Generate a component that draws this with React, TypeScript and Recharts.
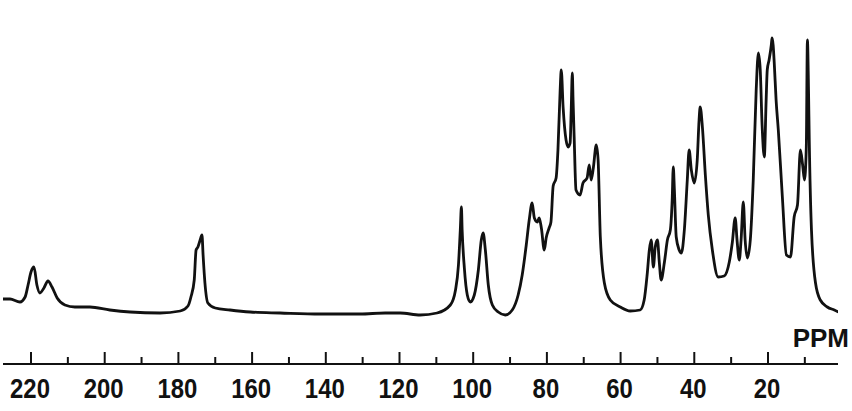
import React from 'react';
import { LineChart, Line, XAxis, YAxis } from 'recharts';

// chemical shift (ppm), read left to right on the spectrum
const ppmValues: number[] = [
  227.6, 225.7, 223.0, 221.6, 220.8, 220.0, 219.2, 218.4, 217.6, 216.5, 215.4, 214.3, 212.9, 210.8, 208.1, 204.0,
  198.6, 193.1, 185.0, 179.5, 177.4, 176.6, 175.7, 175.2, 174.7, 174.1, 173.6, 173.3, 172.8, 172.0, 170.0, 166.0,
  160.5, 152.4, 141.5, 130.7, 123.9, 119.8, 114.4, 109.8, 106.2, 104.8, 104.0, 103.5, 103.2, 103.0, 102.4, 101.6,
  100.8, 99.7, 98.6, 97.8, 97.3, 96.7, 95.9, 94.8, 93.2, 91.3, 89.4, 87.8, 86.7, 85.6, 84.8, 84.0,
  83.4, 82.6, 82.1, 81.5, 80.7, 80.2, 79.4, 78.9, 78.3, 77.5, 77.0, 76.4, 76.1, 75.6, 74.8, 74.2,
  73.7, 73.4, 73.1, 72.9, 72.6, 72.1, 71.0, 70.2, 69.1, 68.5, 68.0, 67.4, 66.6, 66.1, 65.5, 64.4,
  62.8, 60.1, 57.4, 54.7, 53.6, 52.8, 52.2, 51.7, 51.1, 50.6, 50.0, 49.5, 49.0, 48.1, 47.3, 46.5,
  46.0, 45.7, 45.4, 44.9, 44.1, 43.5, 42.7, 41.9, 41.4, 40.8, 40.0, 39.2, 38.7, 38.4, 37.8, 37.0,
  36.2, 35.1, 33.5, 31.9, 30.5, 29.7, 28.9, 28.4, 27.8, 27.3, 26.7, 26.2, 25.6, 24.8, 24.0, 23.2,
  22.6, 22.1, 21.6, 21.0, 20.5, 20.2, 19.7, 19.1, 18.9, 18.6, 18.3, 17.8, 17.2, 16.1, 15.0, 13.9,
  12.9, 12.0, 11.2, 10.6, 10.1, 9.6, 9.3, 9.0, 8.8, 8.2, 7.1, 5.8, 3.9, 2.0, 0.9,
];

// signal intensity (arbitrary units)
const intensityValues: number[] = [
  65, 65, 62, 67, 79, 92, 97, 79, 71, 76, 83, 77, 66, 59, 57, 57,
  54, 52, 51, 53, 58, 67, 84, 114, 117, 124, 129, 109, 81, 61, 56, 54,
  52, 51, 50, 50, 51, 51, 49, 51, 59, 74, 99, 134, 157, 134, 96, 69,
  62, 69, 94, 124, 131, 114, 79, 59, 52, 49, 54, 69, 89, 119, 144, 161,
  146, 142, 146, 136, 114, 126, 136, 142, 178, 186, 214, 274, 294, 257, 224, 217,
  221, 254, 291, 264, 227, 174, 169, 181, 186, 199, 184, 196, 219, 204, 127, 81,
  64, 57, 53, 54, 64, 89, 114, 124, 97, 117, 124, 102, 84, 102, 124, 134,
  164, 197, 174, 127, 114, 111, 134, 184, 214, 194, 181, 204, 244, 257, 237, 189,
  149, 114, 87, 88, 102, 121, 146, 124, 104, 124, 162, 124, 106, 124, 184, 274,
  311, 294, 239, 207, 264, 294, 304, 319, 326, 319, 301, 264, 234, 167, 109, 107,
  147, 159, 214, 199, 184, 217, 324, 274, 224, 134, 81, 64, 57, 54, 52,
];

const axisTicks: number[] = [220, 210, 200, 190, 180, 170, 160, 150, 140, 130, 120, 110, 100, 90, 80, 70, 60, 50, 40, 30, 20, 10];
const labelledTicks: number[] = [220, 200, 180, 160, 140, 120, 100, 80, 60, 40, 20];
const axisUnit = 'PPM';

const data = ppmValues.map((ppm, i) => ({ ppm, intensity: intensityValues[i] }));

const INK = '#111111';

const PpmTick = (props: any) => {
  const { x, y, payload } = props;
  const v = payload.value;
  const major = labelledTicks.includes(v);
  const label = String(v);
  return (
    <g>
      <line x1={x} x2={x} y1={y} y2={y - (major ? 12 : 7)} stroke={INK} strokeWidth={2} />
      {major && (
        <text
          x={x - 1}
          y={y + 34}
          textAnchor="middle"
          fill={INK}
          textLength={label.length * 13.3}
          lengthAdjust="spacingAndGlyphs"
          style={{
            fontFamily: '"Liberation Sans", Arial, sans-serif',
            fontWeight: 700,
            fontSize: 28,
          }}
        >
          {label}
        </text>
      )}
    </g>
  );
};

export default function App() {
  return (
    <div style={{ position: 'absolute', left: 0, top: 0, width: 852, height: 411, background: '#ffffff' }}>
      <LineChart width={852} height={411} data={data} margin={{ top: 34, right: 14, left: 3, bottom: 7 }}>
        <XAxis
          dataKey="ppm"
          type="number"
          domain={[1, 227.6]}
          reversed
          allowDataOverflow
          ticks={axisTicks}
          interval={0}
          tickSize={0}
          tickMargin={0}
          tickLine={false}
          height={40}
          axisLine={{ stroke: INK, strokeWidth: 2 }}
          tick={<PpmTick />}
        />
        <YAxis hide domain={[0, 330]} allowDataOverflow />
        <Line
          type="monotone"
          dataKey="intensity"
          stroke={INK}
          strokeWidth={2.8}
          dot={false}
          isAnimationActive={false}
        />
      </LineChart>
      <svg width={852} height={411} style={{ position: 'absolute', left: 0, top: 0, pointerEvents: 'none' }}>
        <text
          x={849}
          y={347}
          textAnchor="end"
          fill={INK}
          style={{ fontFamily: '"Liberation Sans", Arial, sans-serif', fontWeight: 700, fontSize: 26 }}
        >
          {axisUnit}
        </text>
      </svg>
    </div>
  );
}
